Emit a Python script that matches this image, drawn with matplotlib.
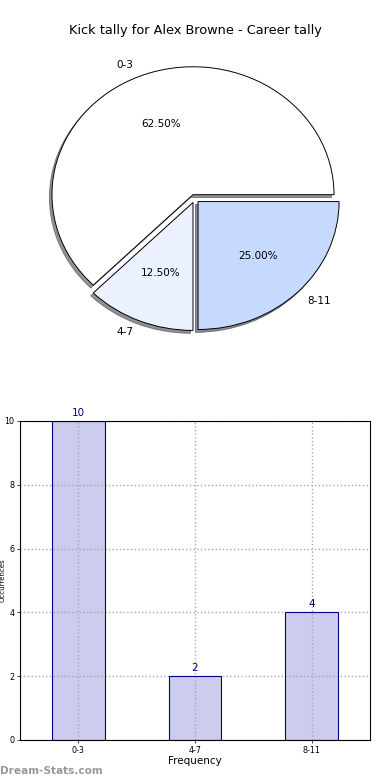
import matplotlib
matplotlib.use("Agg")
import matplotlib.pyplot as plt

title = "Kick tally for Alex Browne - Career tally"
categories = ["0-3", "4-7", "8-11"]
counts = [10, 2, 4]
pie_colors = ["#ffffff", "#ebf1ff", "#c6d9ff"]

fig = plt.figure(figsize=(3.9, 7.8), dpi=100)

# Pie chart
axp = fig.add_axes([0.0474, 0.5404, 0.904, 0.410])
wedges, texts, autotexts = axp.pie(
    counts, labels=categories, colors=pie_colors, autopct="%.2f%%",
    explode=[0.033] * len(counts),
    shadow={"ox": -0.013, "oy": -0.016, "alpha": 0.6},
    startangle=0,
    wedgeprops=dict(edgecolor="black", linewidth=0.7),
    textprops=dict(fontsize=7.5))
axp.set_aspect("auto")
axp.set_xlim(-1.25, 1.25)
axp.set_ylim(-1.25, 1.25)
fig.text(0.5, 0.961, title, ha="center", va="center", fontsize=9.3)

# Bar chart
axb = fig.add_axes([0.0513, 0.0513, 0.897, 0.409])
x = list(range(len(categories)))
axb.bar(x, counts, width=0.45, color="#ccccee", edgecolor="none", zorder=1)
axb.bar(x, counts, width=0.45, fill=False, edgecolor="#000080",
        linewidth=0.8, zorder=4)
axb.set_xlim(-0.5, len(categories) - 0.5)
axb.set_ylim(0, 10)
axb.set_xticks(x)
axb.set_xticklabels(categories)
axb.set_yticks([0, 2, 4, 6, 8, 10])
axb.tick_params(labelsize=5.8, length=2, width=0.5, pad=2)
axb.grid(True, linestyle=":", color="#aaaaaa", linewidth=1, zorder=3)
axb.set_axisbelow(False)
for xi, c in zip(x, counts):
    axb.text(xi, c + 0.1, str(c), ha="center", va="bottom",
             color="#000080", fontsize=7.5)
axb.set_xlabel("Frequency", fontsize=7.5, labelpad=1)
axb.set_ylabel("Occurrences", fontsize=5)
axb.yaxis.set_label_coords(-0.042, 0.5)
for s in axb.spines.values():
    s.set_linewidth(0.8)
    s.set_zorder(5)

fig.text(0.0, 0.012, "Dream-Stats.com", ha="left", va="center",
         fontsize=7.6, color="#999999", fontweight="bold")

fig.savefig("out.png", dpi=100)
